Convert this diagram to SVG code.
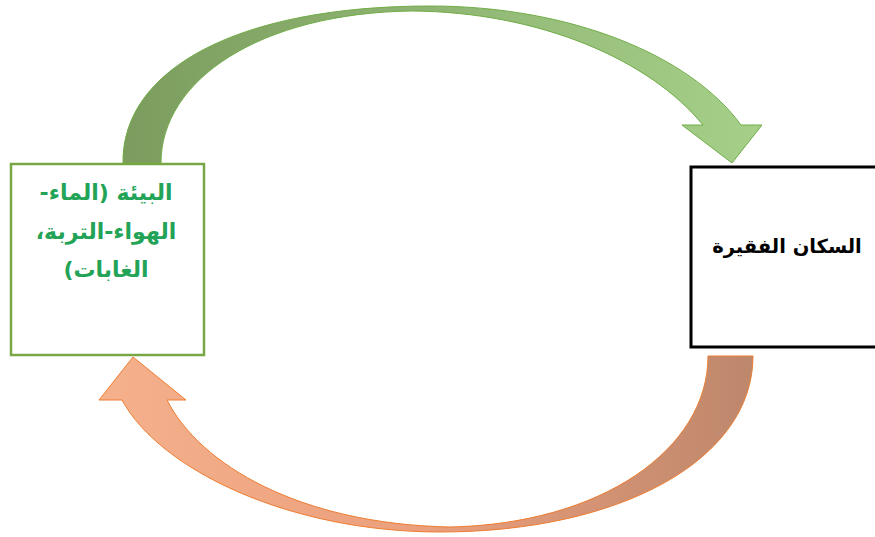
<svg xmlns="http://www.w3.org/2000/svg" width="875" height="537" viewBox="0 0 875 537">
  <style>
    .lbl { font-family: "DejaVu Sans", "Noto Sans", sans-serif; font-weight: bold; direction: rtl; }
    .env { fill: #22a356; font-size: 22px; }
    .pop { fill: #000000; font-size: 19.5px; }
  </style>
  <defs>
    <linearGradient id="gGreen" gradientUnits="userSpaceOnUse" x1="120" y1="0" x2="765" y2="0">
      <stop offset="0" stop-color="#7b9c5e"/>
      <stop offset="1" stop-color="#a6d08a"/>
    </linearGradient>
    <linearGradient id="gOrange" gradientUnits="userSpaceOnUse" x1="100" y1="0" x2="755" y2="0">
      <stop offset="0" stop-color="#f5b08c"/>
      <stop offset="0.5" stop-color="#eb9f7c"/>
      <stop offset="1" stop-color="#bd876c"/>
    </linearGradient>
  </defs>
  <rect width="875" height="537" fill="#ffffff"/>
  <g id="connectors">
    <path id="arrow-top" fill="url(#gGreen)" stroke="#70ad47" stroke-width="1"
      d="M 123,163 C 122,68 240,6 430,6 C 570,6 690,55 741,125 L 762,125 L 732,163 L 682,125 L 703,125 C 650,60 540,12 412,11 C 260,13 161,80 161,163 Z"/>
    <path id="arrow-bottom" fill="url(#gOrange)" stroke="#ed7d31" stroke-width="1"
      d="M 753,356 C 753,460 620,532 440,532 C 290,532 160,470 122,400 L 99,400 L 133,357 L 186,400 L 167,400 C 200,465 300,524 450,527 C 600,524 708,450 708,356 Z"/>
  </g>
  <g id="node-environment">
    <rect x="11" y="164" width="193" height="191" fill="#ffffff" stroke="#77a745" stroke-width="2.5"/>
    <text class="lbl env" x="106" y="200" text-anchor="middle">البيئة (الماء-</text>
    <text class="lbl env" x="106" y="239" text-anchor="middle">الهواء-التربة،</text>
    <text class="lbl env" x="106" y="277" text-anchor="middle">الغابات)</text>
  </g>
  <g id="node-poor-population">
    <rect x="691" y="167" width="190" height="180" fill="#ffffff" stroke="#000000" stroke-width="3"/>
    <text class="lbl pop" x="787" y="253" text-anchor="middle">السكان الفقيرة</text>
  </g>
</svg>
